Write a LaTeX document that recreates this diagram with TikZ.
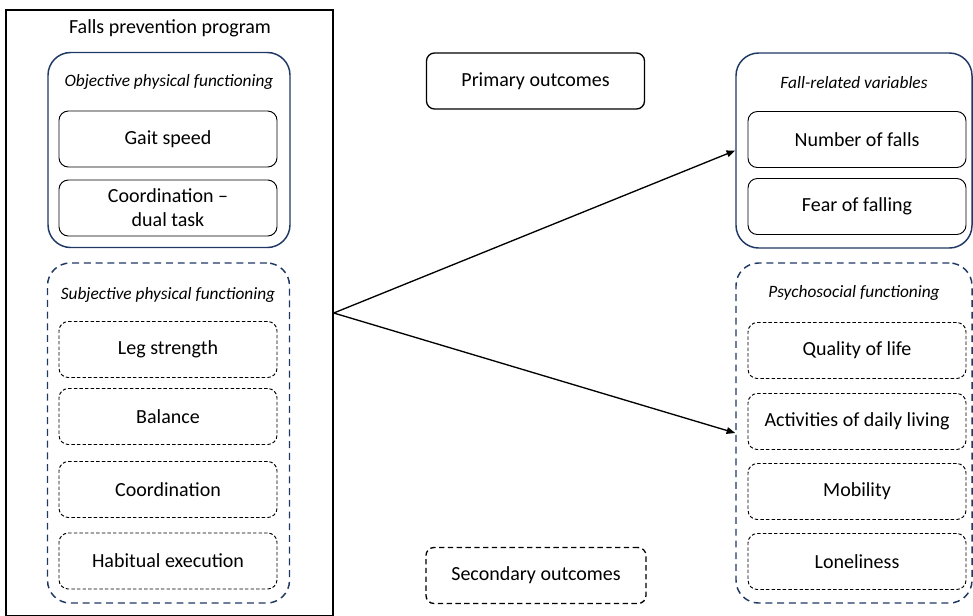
\documentclass[tikz,border=0pt]{standalone}
\usepackage{fontspec}
\setmainfont{Carlito}
\usetikzlibrary{positioning, arrows.meta, shapes.geometric}

\definecolor{navy}{RGB}{31,56,100}

\begin{document}
\begin{tikzpicture}[
  x=0.75pt, y=-0.75pt,
  font=\fontsize{15}{18}\selectfont,
  program/.style={rectangle, draw, line width=1.1pt, minimum width=245.25pt, minimum height=454.5pt},
  group/.style={rectangle, draw=navy, line width=1.1pt, rounded corners=17pt, minimum width=181.5pt},
  groupdash/.style={group, dash pattern=on 5.2pt off 3.6pt},
  grouplabel/.style={font=\fontsize{13}{15}\selectfont\itshape},
  item/.style={rectangle, draw, line width=0.7pt, rounded corners=7pt, minimum width=163.5pt, minimum height=42pt, align=center, inner sep=1pt},
  itemdash/.style={item, dash pattern=on 2.6pt off 1.6pt},
  outcome/.style={rectangle, draw, line width=1pt, rounded corners=6pt, minimum width=163.5pt, minimum height=42pt},
  arr/.style={-{Triangle[length=6.5pt, width=5pt]}, line width=1pt}
]
  \useasboundingbox (0,0) rectangle (973,615);
  % program side
  \node[program] (prog) at (169.5,313) {};
  \node (progtitle) at (170,28) {Falls prevention program};
  \node[group, minimum height=146.25pt] (obj) at (169,150) {};
  \node[grouplabel] (objlabel) at (169,82) {Objective physical functioning};
  \node[item] (gait) at (168,139) {Gait speed};
  \node[item] (dual) at (168,208) {Coordination --\\dual task};
  \node[groupdash, minimum height=255pt] (subj) at (168.5,433) {};
  \node[grouplabel] (subjlabel) at (168,295) {Subjective physical functioning};
  \node[itemdash] (leg) at (168,349.5) {Leg strength};
  \node[itemdash] (bal) at (168,416.5) {Balance};
  \node[itemdash] (coord) at (168,489.5) {Coordination};
  \node[itemdash] (habit) at (168,561) {Habitual execution};
  % legend
  \node[outcome] (primary) at (535.5,81) {Primary outcomes};
  \node[outcome, dash pattern=on 4pt off 2.6pt, minimum width=165pt] (secondary) at (536,575.5) {Secondary outcomes};
  % outcome side
  \node[group, minimum width=177pt, minimum height=146.25pt] (fall) at (854,150.5) {};
  \node[grouplabel] (falllabel) at (854,83) {Fall-related variables};
  \node[item] (nfalls) at (857,139.5) {Number of falls};
  \node[item] (fear) at (857,206.5) {Fear of falling};
  \node[groupdash, minimum width=177pt, minimum height=255pt] (psych) at (854,433) {};
  \node[grouplabel] (psychlabel) at (854,293) {Psychosocial functioning};
  \node[itemdash] (qol) at (857,350.5) {Quality of life};
  \node[itemdash] (adl) at (857,421.5) {Activities of daily living};
  \node[itemdash] (mob) at (857,491.5) {Mobility};
  \node[itemdash] (lone) at (857,561.5) {Loneliness};
  \draw[arr] (prog.east) to (fall.west);
  \draw[arr] (prog.east) to (psych.west);
\end{tikzpicture}
\end{document}
